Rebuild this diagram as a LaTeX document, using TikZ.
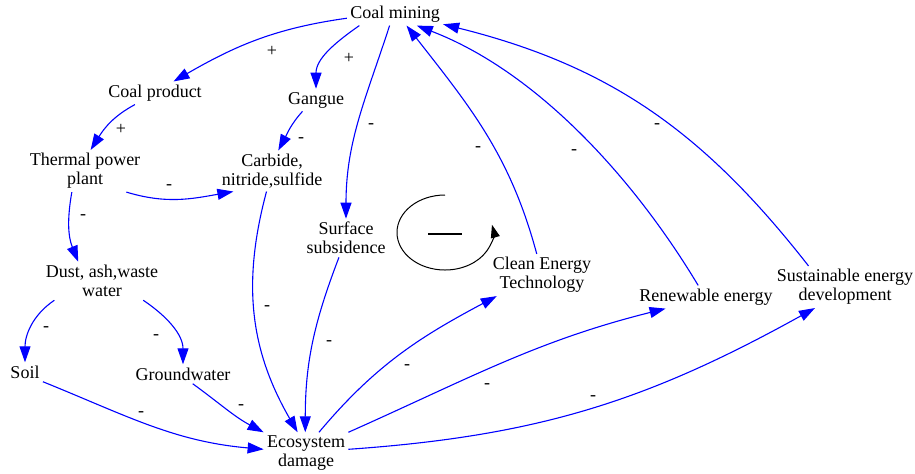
\documentclass[tikz,border=0pt]{standalone}
\usepackage{fontspec}
\setmainfont{Liberation Serif}
\usepackage{xcolor}
\usetikzlibrary{positioning,arrows.meta}

\begin{document}
\begin{tikzpicture}[x=0.5pt,y=0.5pt,
            arrowstyle/.style={-{Triangle[length=8pt,width=5.5pt]}, draw=blue, line width=0.55pt},
            signstyle/.style={font=\fontsize{9}{9.5}\selectfont, inner sep=0pt}]
            % A text style
            \tikzstyle{varnode} = [align=center, inner sep=1.5pt, font=\fontsize{9}{9.5}\selectfont]
            \useasboundingbox (0,0) rectangle (915,-473);
            % Define the nodes
            \node (CM) [varnode] at (395,-14) {Coal mining};
            \node (CP) [varnode] at (155,-93) {Coal product};
            \node (GG) [varnode] at (316,-100) {Gangue};
            \node (TPP) [varnode] at (85,-171) {Thermal power\\plant};
            \node (CNS) [varnode] at (272,-171) {Carbide,\\nitride,sulfide};
            \node (SS) [varnode] at (346,-238) {Surface\\subsidence};
            \node (DAW) [varnode] at (102,-281) {Dust, ash,waste\\water};
            \node (SL) [varnode] at (25,-372) {Soil};
            \node (GW) [varnode] at (183,-374) {Groundwater};
            \node (ED) [varnode] at (306,-453) {Ecosystem\\damage};
            \node (CET) [varnode] at (542,-275) {Clean Energy\\Technology};
            \node (RE) [varnode] at (706,-297) {Renewable energy};
            \node (SED) [varnode] at (845,-287) {Sustainable energy\\development};

            % Draw the arrows
            \draw [arrowstyle] (CM.185) to[out=188,in=30] (CP.32);
            \draw [arrowstyle] (CM.-162) to[out=215,in=90] (GG.north);
            \draw [arrowstyle] (CM.-115) to[out=252,in=90] (SS.north);
            \draw [arrowstyle] (CP.-150) to[out=208,in=58] (TPP.75);
            \draw [arrowstyle] (GG.-140) to[out=228,in=62] (CNS.73);
            \draw [arrowstyle] (TPP.-27) to[out=-17,in=190] (CNS.-152);
            \draw [arrowstyle] (TPP.-122) to[out=260,in=112] (DAW.141);
            \draw [arrowstyle] (CNS.-105) to[out=255,in=120] (ED.112);
            \draw [arrowstyle] (SS.-110) to[out=249,in=90] (ED.92);
            \draw [arrowstyle] (DAW.-158) to[out=214,in=90] (SL.north);
            \draw [arrowstyle] (DAW.-25) to[out=-34,in=90] (GW.north);
            \draw [arrowstyle] (SL.south east) to[out=-22,in=175] (ED.175);
            \draw [arrowstyle] (GW.-45) to[out=-36,in=152] (ED.north west);
            \draw [arrowstyle] (ED.58) to[out=50,in=208] (CET.-155);
            \draw [arrowstyle] (ED.north east) to[out=24,in=194] (RE.-164);
            \draw [arrowstyle] (ED.5) to[out=4,in=209] (SED.-145);
            \draw [arrowstyle] (CET.104) to[out=105,in=-52] (CM.-45);
            \draw [arrowstyle] (RE.124) to[out=121,in=-21,looseness=0.85] (CM.-28);
            \draw [arrowstyle] (SED.150) to[out=128,in=-14] (CM.-12);

            % Polarity signs
            \node (s1) [signstyle] at (272,-51) {+};
            \node (s2) [signstyle] at (349,-58) {+};
            \node (s3) [signstyle] at (121,-129) {+};
            \node (s4) [signstyle] at (371,-126) {-};
            \node (s5) [signstyle] at (301,-140) {-};
            \node (s6) [signstyle] at (169,-187) {-};
            \node (s7) [signstyle] at (83,-217) {-};
            \node (s8) [signstyle] at (267,-308) {-};
            \node (s9) [signstyle] at (329,-343) {-};
            \node (s10) [signstyle] at (46,-329) {-};
            \node (s11) [signstyle] at (156,-337) {-};
            \node (s12) [signstyle] at (141,-414) {-};
            \node (s13) [signstyle] at (241,-407) {-};
            \node (s14) [signstyle] at (407,-367) {-};
            \node (s15) [signstyle] at (487,-386) {-};
            \node (s16) [signstyle] at (593,-398) {-};
            \node (s17) [signstyle] at (478,-149) {-};
            \node (s18) [signstyle] at (574,-152) {-};
            \node (s19) [signstyle] at (657,-126) {-};

            % Balancing loop
            \draw [line width=0.5pt, -{Triangle[length=6.5pt,width=4.5pt]}] (445,-195) arc[start angle=90, end angle=372, x radius=48, y radius=37.5];
            \draw [line width=1pt] (428,-234) -- (462,-234);
        \end{tikzpicture}
\end{document}
